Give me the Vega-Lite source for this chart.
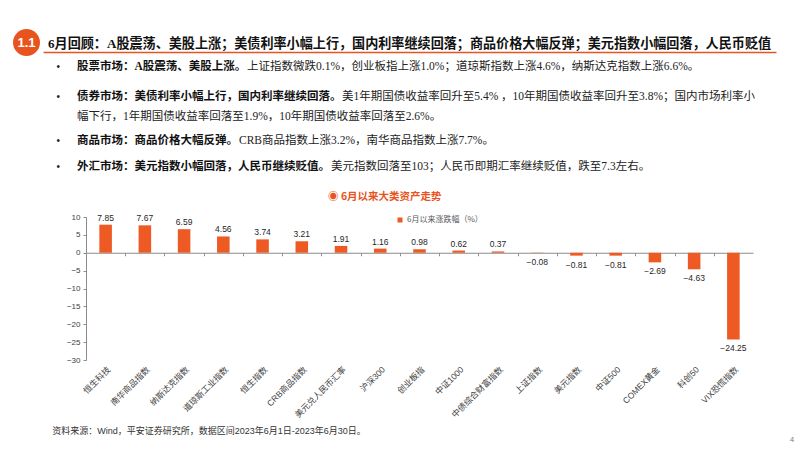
{
  "$schema": "https://vega.github.io/schema/vega-lite/v6.json",
  "background": "#ffffff",
  "padding": {"left": 13, "top": 29, "right": 0, "bottom": 0},
  "config": {"view": {"stroke": null}},
  "datasets": {
    "header": [
      {"badge": "1.1", "title": "6月回顾：A股震荡、美股上涨；美债利率小幅上行，国内利率继续回落；商品价格大幅反弹；美元指数小幅回落，人民币贬值"}
    ],
    "bullets": [
      {"line": 1, "head": "股票市场：A股震荡、美股上涨。", "rest": "上证指数微跌0.1%，创业板指上涨1.0%；道琼斯指数上涨4.6%，纳斯达克指数上涨6.6%。", "cont": ""},
      {"line": 2, "head": "债券市场：美债利率小幅上行，国内利率继续回落。", "rest": "美1年期国债收益率回升至5.4% ，10年期国债收益率回升至3.8%；国内市场利率小", "cont": "幅下行，1年期国债收益率回落至1.9%，10年期国债收益率回落至2.6%。"},
      {"line": 3, "head": "商品市场：商品价格大幅反弹。", "rest": "CRB商品指数上涨3.2%，南华商品指数上涨7.7%。", "cont": ""},
      {"line": 4, "head": "外汇市场：美元指数小幅回落，人民币继续贬值。", "rest": "美元指数回落至103；人民币即期汇率继续贬值，跌至7.3左右。", "cont": ""}
    ],
    "assets": [
      {"name": "恒生科技", "value": 7.85},
      {"name": "南华商品指数", "value": 7.67},
      {"name": "纳斯达克指数", "value": 6.59},
      {"name": "道琼斯工业指数", "value": 4.56},
      {"name": "恒生指数", "value": 3.74},
      {"name": "CRB商品指数", "value": 3.21},
      {"name": "美元兑人民币汇率", "value": 1.91},
      {"name": "沪深300", "value": 1.16},
      {"name": "创业板指", "value": 0.98},
      {"name": "中证1000", "value": 0.62},
      {"name": "中债综合财富指数", "value": 0.37},
      {"name": "上证指数", "value": -0.08},
      {"name": "美元指数", "value": -0.81},
      {"name": "中证500", "value": -0.81},
      {"name": "COMEX黄金", "value": -2.69},
      {"name": "科创50", "value": -4.63},
      {"name": "VIX恐慌指数", "value": -24.25}
    ]
  },
  "spacing": 18,
  "resolve": {"scale": {"color": "independent"}, "legend": {"color": "independent"}},
  "vconcat": [
    {
      "spacing": 5,
      "vconcat": [
        {
          "spacing": 3,
          "hconcat": [
            {
              "width": 27,
              "height": 27,
              "data": {"name": "header"},
              "layer": [
                {"mark": {"type": "point", "shape": "circle", "filled": true, "size": 729, "color": "#E8541E", "opacity": 1}},
                {"mark": {"type": "text", "color": "#ffffff", "font": "Liberation Sans", "fontSize": 13, "fontWeight": "bold", "align": "center", "baseline": "middle"}, "encoding": {"text": {"field": "badge"}}}
              ]
            },
            {
              "width": 733,
              "height": 23,
              "data": {"name": "header"},
              "mark": {"type": "text", "align": "left", "baseline": "middle", "dx": 5, "dy": 3, "font": "Liberation Serif, Noto Sans CJK SC", "fontSize": 13.1, "fontWeight": "bold", "color": "#111111"},
              "encoding": {
                "x": {"field": "title", "type": "nominal", "scale": {"type": "point", "padding": 0, "align": 0}, "axis": {"orient": "bottom", "domain": true, "domainColor": "#E8541E", "domainWidth": 1.5, "ticks": false, "labels": false, "title": null, "grid": false}},
                "text": {"field": "title"}
              }
            }
          ]
        },
        {
          "spacing": 11.5,
          "vconcat": [
            {
              "spacing": 17.5,
              "vconcat": [
                {
                  "spacing": 0,
                  "hconcat": [
                    {"width": 64, "height": 0.01, "data": {"name": "bullets"}, "transform": [{"filter": "datum.line == 1"}], "mark": {"type": "text", "align": "center", "baseline": "middle", "dx": 13.3, "font": "Liberation Sans", "fontSize": 10, "color": "#222222"}, "encoding": {"text": {"value": "•"}}},
                    {"width": 0.01, "height": 0.01, "data": {"name": "bullets"}, "transform": [{"filter": "datum.line == 1"}], "mark": {"type": "text", "align": "left", "baseline": "middle", "font": "Liberation Serif, Noto Sans CJK SC", "fontSize": 11.5, "fontWeight": "bold", "color": "#111111"}, "encoding": {"text": {"field": "head"}}},
                    {"width": 0.01, "height": 0.01, "data": {"name": "bullets"}, "transform": [{"filter": "datum.line == 1"}], "mark": {"type": "text", "align": "left", "baseline": "middle", "font": "Liberation Serif, Noto Sans CJK SC", "fontSize": 11.5, "color": "#222222"}, "encoding": {"text": {"field": "rest"}}}
                  ]
                },
                {
                  "spacing": 0,
                  "hconcat": [
                    {"width": 64, "height": 0.01, "data": {"name": "bullets"}, "transform": [{"filter": "datum.line == 2"}], "mark": {"type": "text", "align": "center", "baseline": "middle", "dx": 13.3, "font": "Liberation Sans", "fontSize": 10, "color": "#222222"}, "encoding": {"text": {"value": "•"}}},
                    {
                      "spacing": 8,
                      "vconcat": [
                        {
                          "spacing": 0,
                          "hconcat": [
                            {"width": 0.01, "height": 0.01, "data": {"name": "bullets"}, "transform": [{"filter": "datum.line == 2"}], "mark": {"type": "text", "align": "left", "baseline": "middle", "font": "Liberation Serif, Noto Sans CJK SC", "fontSize": 11.5, "fontWeight": "bold", "color": "#111111"}, "encoding": {"text": {"field": "head"}}},
                            {"width": 0.01, "height": 0.01, "data": {"name": "bullets"}, "transform": [{"filter": "datum.line == 2"}], "mark": {"type": "text", "align": "left", "baseline": "middle", "font": "Liberation Serif, Noto Sans CJK SC", "fontSize": 11.5, "color": "#222222"}, "encoding": {"text": {"field": "rest"}}}
                          ]
                        },
                        {"width": 0.01, "height": 0.01, "data": {"name": "bullets"}, "transform": [{"filter": "datum.line == 2"}], "mark": {"type": "text", "align": "left", "baseline": "middle", "font": "Liberation Serif, Noto Sans CJK SC", "fontSize": 11.5, "color": "#222222"}, "encoding": {"text": {"field": "cont"}}}
                      ]
                    }
                  ]
                }
              ]
            },
            {
              "spacing": 14.5,
              "vconcat": [
                {
                  "spacing": 0,
                  "hconcat": [
                    {"width": 64, "height": 0.01, "data": {"name": "bullets"}, "transform": [{"filter": "datum.line == 3"}], "mark": {"type": "text", "align": "center", "baseline": "middle", "dx": 13.3, "font": "Liberation Sans", "fontSize": 10, "color": "#222222"}, "encoding": {"text": {"value": "•"}}},
                    {"width": 0.01, "height": 0.01, "data": {"name": "bullets"}, "transform": [{"filter": "datum.line == 3"}], "mark": {"type": "text", "align": "left", "baseline": "middle", "font": "Liberation Serif, Noto Sans CJK SC", "fontSize": 11.5, "fontWeight": "bold", "color": "#111111"}, "encoding": {"text": {"field": "head"}}},
                    {"width": 0.01, "height": 0.01, "data": {"name": "bullets"}, "transform": [{"filter": "datum.line == 3"}], "mark": {"type": "text", "align": "left", "baseline": "middle", "font": "Liberation Serif, Noto Sans CJK SC", "fontSize": 11.5, "color": "#222222"}, "encoding": {"text": {"field": "rest"}}}
                  ]
                },
                {
                  "spacing": 0,
                  "hconcat": [
                    {"width": 64, "height": 0.01, "data": {"name": "bullets"}, "transform": [{"filter": "datum.line == 4"}], "mark": {"type": "text", "align": "center", "baseline": "middle", "dx": 13.3, "font": "Liberation Sans", "fontSize": 10, "color": "#222222"}, "encoding": {"text": {"value": "•"}}},
                    {"width": 0.01, "height": 0.01, "data": {"name": "bullets"}, "transform": [{"filter": "datum.line == 4"}], "mark": {"type": "text", "align": "left", "baseline": "middle", "font": "Liberation Serif, Noto Sans CJK SC", "fontSize": 11.5, "fontWeight": "bold", "color": "#111111"}, "encoding": {"text": {"field": "head"}}},
                    {"width": 0.01, "height": 0.01, "data": {"name": "bullets"}, "transform": [{"filter": "datum.line == 4"}], "mark": {"type": "text", "align": "left", "baseline": "middle", "font": "Liberation Serif, Noto Sans CJK SC", "fontSize": 11.5, "color": "#222222"}, "encoding": {"text": {"field": "rest"}}}
                  ]
                }
              ]
            }
          ]
        }
      ]
    },
    {
      "spacing": 0,
      "bounds": "flush",
      "resolve": {"scale": {"color": "independent"}, "legend": {"color": "independent"}},
      "hconcat": [
        {"width": 73, "height": 143, "data": {"values": [{"s": ""}]}, "mark": "text", "encoding": {"text": {"field": "s"}}},
        {
          "width": 667,
          "height": 143,
          "data": {"name": "assets"},
          "title": {"text": "◉  6月以来大类资产走势", "anchor": "start", "frame": "group", "dx": 242, "offset": 6, "baseline": "middle", "color": "#E8541E", "font": "Noto Sans CJK SC, DejaVu Sans", "fontSize": 10.5, "fontWeight": "bold"},
          "encoding": {
            "x": {
              "field": "name", "type": "nominal", "sort": null,
              "scale": {"paddingInner": 0.68, "paddingOuter": 0.34},
              "axis": {
                "orient": "bottom", "offset": -107.25,
                "domainColor": "#8C8C8C", "domainWidth": 1, "tickColor": "#8C8C8C", "tickSize": 3,
                "tickOffset": -19.62, "labelOffset": 19.62,
                "labelAngle": -45, "labelAlign": "right", "labelBaseline": "top", "labelPadding": 109,
                "labelFont": "Liberation Sans, Noto Sans CJK SC", "labelFontSize": 8.5, "labelColor": "#404040",
                "labelOverlap": false, "labelBound": false, "grid": false,
                "title": "资料来源：Wind，平安证券研究所，数据区间2023年6月1日-2023年6月30日。",
                "titleX": -34.3, "titleY": 177.7, "titleAlign": "left", "titleBaseline": "middle", "titleAngle": 0,
                "titleFont": "Liberation Sans, Noto Sans CJK SC", "titleFontSize": 9, "titleFontWeight": "normal", "titleColor": "#333333"
              }
            },
            "y": {
              "field": "value", "type": "quantitative",
              "scale": {"domain": [-30, 10], "nice": false, "zero": false},
              "axis": {"values": [10, 5, 0, -5, -10, -15, -20, -25, -30], "domainColor": "#8C8C8C", "tickColor": "#8C8C8C", "tickSize": 3, "labelPadding": 3, "labelFont": "Liberation Sans", "labelFontSize": 8, "labelColor": "#404040", "grid": false, "title": null}
            }
          },
          "layer": [
            {
              "mark": {"type": "bar"},
              "encoding": {
                "color": {"datum": "6月以来涨跌幅（%）", "type": "nominal", "scale": {"range": ["#EE5A24"]},
                  "legend": {"orient": "none", "legendX": 310, "legendY": -1, "title": null, "symbolType": "square", "symbolSize": 25, "labelFont": "Noto Sans CJK SC", "labelFontSize": 8, "labelColor": "#595959", "padding": 0, "labelOffset": 3}}
              }
            },
            {
              "transform": [{"filter": "datum.value >= 0"}],
              "mark": {"type": "text", "baseline": "bottom", "dy": -2, "font": "Liberation Sans", "fontSize": 8.5, "color": "#262626"},
              "encoding": {"text": {"field": "value", "type": "quantitative", "format": ".2f"}}
            },
            {
              "transform": [{"filter": "datum.value < 0"}],
              "mark": {"type": "text", "baseline": "top", "dy": 5, "font": "Liberation Sans", "fontSize": 8.5, "color": "#262626"},
              "encoding": {"text": {"field": "value", "type": "quantitative", "format": ".2f"}}
            }
          ]
        },
        {"width": 40, "height": 143, "data": {"values": [{"page": "4"}]}, "mark": {"type": "text", "dx": 19, "dy": 151, "font": "Liberation Sans", "fontSize": 8, "color": "#7F7F7F"}, "encoding": {"text": {"field": "page"}}}
      ]
    }
  ]
}
